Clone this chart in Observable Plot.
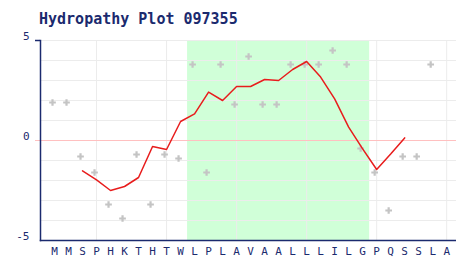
<!DOCTYPE html>
<html>
<head>
<meta charset="utf-8">
<script src="https://cdn.jsdelivr.net/npm/d3@7"></script>
<script src="https://cdn.jsdelivr.net/npm/@observablehq/plot@0.6"></script>
<style>
  html, body { margin: 0; padding: 0; background: #ffffff; }
</style>
</head>
<body>
<div id="chart"></div>
<script>
// Data
const title = "Hydropathy Plot 097355";
const residues = ["M","M","S","P","H","K","T","H","T","W","L","P","L","A","V","A","A","L","L","L","I","L","G","P","Q","S","S","L","A"];
const residueValues = [1.9,1.9,-0.8,-1.6,-3.2,-3.9,-0.7,-3.2,-0.7,-0.9,3.8,-1.6,3.8,1.8,4.2,1.8,1.8,3.8,3.8,3.8,4.5,3.8,-0.4,-1.6,-3.5,-0.8,-0.8,3.8,null];
const windowStart = 2;
const windowValues = [-1.52,-1.97,-2.5,-2.3,-1.85,-0.3,-0.45,0.95,1.33,2.42,2.0,2.7,2.7,3.05,3.0,3.55,3.95,3.17,2.08,0.67,-0.42,-1.45,-0.68,0.13];
const regionStart = 10;   // first residue of shaded hydrophobic region
const regionEnd = 22;     // last residue of shaded region
const yTicks = [5, 0, -5];
const yGrid = [-4, -3, -2, -1, 1, 2, 3, 4, 5];
const xGrid = [3, 8, 13, 18, 23, 28];

const navy = "#1b2a6e";
const font = "DejaVu Sans Mono, monospace";

const points = residues.map((r, i) => ({i, r, v: residueValues[i]})).filter(d => d.v != null);
const linePts = windowValues.map((v, k) => ({i: windowStart + k, v}));
const region = [{x1: regionStart - 0.5, x2: regionEnd + 0.5}];

const chart = Plot.plot({
  width: 456,
  height: 260,
  marginLeft: 40,
  marginRight: 0,
  marginTop: 40,
  marginBottom: 20,
  x: {type: "linear", domain: [-1, 28.7], axis: null},
  y: {domain: [-5, 5], axis: null},
  style: {background: "#ffffff", fontFamily: font},
  marks: [
    Plot.rect(region, {x1: "x1", x2: "x2", y1: -5, y2: 5, fill: "#d0ffd8"}),
    Plot.ruleY(yGrid, {stroke: "#ececec", strokeWidth: 1}),
    Plot.ruleX(xGrid, {stroke: "#ececec", strokeWidth: 1}),
    Plot.ruleY([0], {stroke: "#ffc0c0", strokeWidth: 1, insetLeft: -5}),
    Plot.dot(points, {x: "i", y: "v", symbol: "cross", r: 2.8, fill: "#c4c4c4", dx: -2}),
    Plot.line(linePts, {x: "i", y: "v", stroke: "#e81c1c", strokeWidth: 1.5}),
    Plot.axisY([5], {tickSize: 5, tickFormat: () => "", stroke: navy, strokeWidth: 1.5, label: null}),
    Plot.frame({anchor: "left", stroke: navy, strokeWidth: 1.5}),
    Plot.frame({anchor: "bottom", stroke: navy, strokeWidth: 1.5}),
    Plot.axisY(yTicks, {tickSize: 0, tickPadding: 11, tickFormat: d => String(d), dy: -4, fill: navy, fontSize: 11, fontFamily: font, label: null}),
    Plot.axisX(d3.range(residues.length), {tickSize: 0, tickPadding: 7, tickFormat: i => residues[i], fill: navy, fontSize: 11, fontFamily: font, label: null}),
    Plot.text([title], {frameAnchor: "top-left", textAnchor: "start", lineAnchor: "bottom", dx: -1.5, dy: -16.7, fill: navy, fontSize: 15, fontWeight: "bold", fontFamily: font})
  ]
});
document.getElementById("chart").appendChild(chart);
</script>
</body>
</html>
